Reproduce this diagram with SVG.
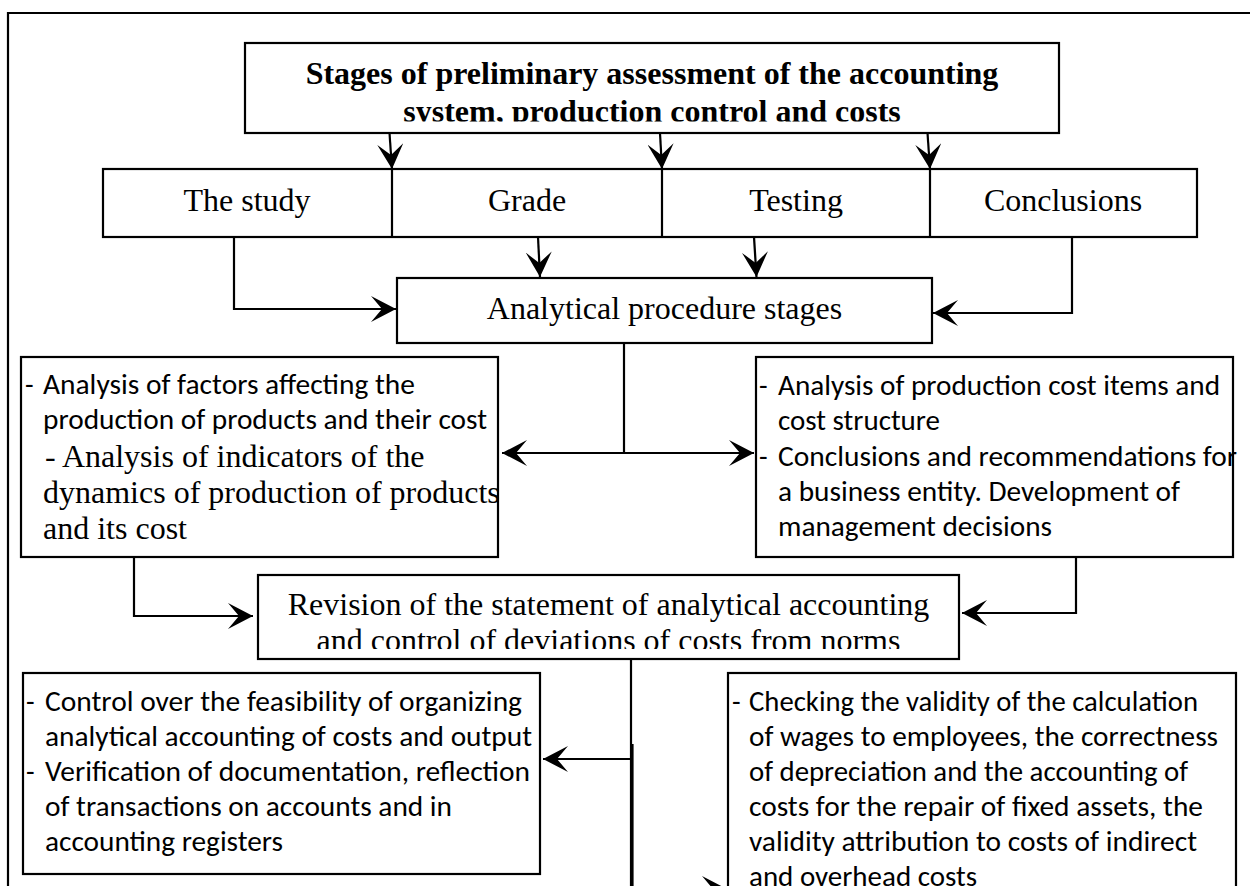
<svg xmlns="http://www.w3.org/2000/svg" width="1250" height="886" viewBox="0 0 1250 886">
<style>
.box{fill:#fff;stroke:#000;stroke-width:2.2}
.ln{fill:none;stroke:#000;stroke-width:2.2}
.tr{font-family:"Liberation Serif","Times New Roman",serif;font-size:32px;fill:#000}
.tb{font-family:"Liberation Serif","Times New Roman",serif;font-size:32px;font-weight:bold;fill:#000}
.cal{font-family:Carlito,Lato,sans-serif;font-size:28px;fill:#000}
</style>
<defs>
<marker id="ah" viewBox="0 0 26 26" refX="25" refY="13" markerWidth="26" markerHeight="26" markerUnits="userSpaceOnUse" orient="auto">
<path d="M0,0 L25,13 L0,26 L11,13 Z" fill="#000"/>
</marker>
<clipPath id="clipTitle"><rect x="245" y="43" width="814" height="78.5"/></clipPath>
<clipPath id="clipRev"><rect x="258" y="575" width="701" height="74"/></clipPath>
</defs>
<rect width="1250" height="886" fill="#fff"/>
<path class="ln" d="M8,900 V13 H1260"/>

<g id="title">
<rect class="box" x="245" y="43" width="814" height="90"/>
<g clip-path="url(#clipTitle)">
<text class="tb" x="652" y="84" text-anchor="middle">Stages of preliminary assessment of the accounting</text>
<text class="tb" x="652" y="122" text-anchor="middle">system, production control and costs</text>
</g>
</g>

<g id="stages">
<rect class="box" x="103" y="169" width="1094" height="68"/>
<path class="ln" d="M392,169 V237 M662,169 V237 M930,169 V237"/>
<g id="stage-study"><text class="tr" x="247" y="211" text-anchor="middle">The study</text></g>
<g id="stage-grade"><text class="tr" x="527" y="211" text-anchor="middle">Grade</text></g>
<g id="stage-testing"><text class="tr" x="796" y="211" text-anchor="middle">Testing</text></g>
<g id="stage-conclusions"><text class="tr" x="1063" y="211" text-anchor="middle">Conclusions</text></g>
</g>

<g id="analytical">
<rect class="box" x="397" y="278" width="535" height="65"/>
<text class="tr" x="664.5" y="319" text-anchor="middle">Analytical procedure stages</text>
</g>

<g id="left1">
<rect class="box" x="21" y="357" width="477" height="200"/>
<text class="cal" x="25" y="394">-</text>
<text class="cal" x="43" y="394" textLength="372" lengthAdjust="spacingAndGlyphs">Analysis of factors affecting the</text>
<text class="cal" x="43" y="429" textLength="444" lengthAdjust="spacingAndGlyphs">production of products and their cost</text>
<text class="tr" x="45" y="467">- Analysis of indicators of the</text>
<text class="tr" x="43" y="503">dynamics of production of products</text>
<text class="tr" x="43" y="539">and its cost</text>
</g>

<g id="right1">
<rect class="box" x="756" y="357" width="477" height="200"/>
<text class="cal" x="759" y="395">-</text>
<text class="cal" x="778" y="395" textLength="442" lengthAdjust="spacingAndGlyphs">Analysis of production cost items and</text>
<text class="cal" x="778" y="430" textLength="162" lengthAdjust="spacingAndGlyphs">cost structure</text>
<text class="cal" x="759" y="466">-</text>
<text class="cal" x="778" y="466" textLength="459" lengthAdjust="spacingAndGlyphs">Conclusions and recommendations for</text>
<text class="cal" x="778" y="501" textLength="402" lengthAdjust="spacingAndGlyphs">a business entity. Development of</text>
<text class="cal" x="778" y="536" textLength="274" lengthAdjust="spacingAndGlyphs">management decisions</text>
</g>

<g id="revision">
<rect class="box" x="258" y="575" width="701" height="84"/>
<g clip-path="url(#clipRev)">
<text class="tr" x="608.5" y="615" text-anchor="middle">Revision of the statement of analytical accounting</text>
<text class="tr" x="608.5" y="651" text-anchor="middle">and control of deviations of costs from norms</text>
</g>
</g>

<g id="left2">
<rect class="box" x="23" y="673" width="517" height="201"/>
<text class="cal" x="26" y="711">-</text>
<text class="cal" x="45" y="711" textLength="477" lengthAdjust="spacingAndGlyphs">Control over the feasibility of organizing</text>
<text class="cal" x="45" y="746" textLength="487" lengthAdjust="spacingAndGlyphs">analytical accounting of costs and output</text>
<text class="cal" x="26" y="781">-</text>
<text class="cal" x="45" y="781" textLength="485" lengthAdjust="spacingAndGlyphs">Verification of documentation, reflection</text>
<text class="cal" x="45" y="816" textLength="407" lengthAdjust="spacingAndGlyphs">of transactions on accounts and in</text>
<text class="cal" x="45" y="851" textLength="238" lengthAdjust="spacingAndGlyphs">accounting registers</text>
</g>

<g id="right2">
<rect class="box" x="728" y="673" width="508" height="260"/>
<text class="cal" x="732" y="711">-</text>
<text class="cal" x="749" y="711" textLength="449" lengthAdjust="spacingAndGlyphs">Checking the validity of the calculation</text>
<text class="cal" x="749" y="746" textLength="469" lengthAdjust="spacingAndGlyphs">of wages to employees, the correctness</text>
<text class="cal" x="749" y="781" textLength="439" lengthAdjust="spacingAndGlyphs">of depreciation and the accounting of</text>
<text class="cal" x="749" y="816" textLength="454" lengthAdjust="spacingAndGlyphs">costs for the repair of fixed assets, the</text>
<text class="cal" x="749" y="851" textLength="448" lengthAdjust="spacingAndGlyphs">validity attribution to costs of indirect</text>
<text class="cal" x="749" y="886" textLength="228" lengthAdjust="spacingAndGlyphs">and overhead costs</text>
</g>

<g id="connectors">
<path class="ln" d="M389.5,133 L392,169" marker-end="url(#ah)"/>
<path class="ln" d="M660,133 L662,169" marker-end="url(#ah)"/>
<path class="ln" d="M927.5,133 L930,169" marker-end="url(#ah)"/>
<path class="ln" d="M234,237 V309 H396" marker-end="url(#ah)"/>
<path class="ln" d="M538,237 L540,277" marker-end="url(#ah)"/>
<path class="ln" d="M754,237 L756.5,277" marker-end="url(#ah)"/>
<path class="ln" d="M1072,237 V313 H933" marker-end="url(#ah)"/>
<path class="ln" d="M624,343 V453"/>
<path class="ln" d="M624,453 H502" marker-end="url(#ah)"/>
<path class="ln" d="M624,453 H754" marker-end="url(#ah)"/>
<path class="ln" d="M134,557 V616 H253" marker-end="url(#ah)"/>
<path class="ln" d="M1076,557 V613 H962" marker-end="url(#ah)"/>
<path class="ln" d="M631,659 V900"/>
<path class="ln" d="M632.5,744 V900"/>
<path class="ln" d="M631,759 H543" marker-end="url(#ah)"/>
<path class="ln" d="M632,889 H727" marker-end="url(#ah)"/>
</g>
</svg>
